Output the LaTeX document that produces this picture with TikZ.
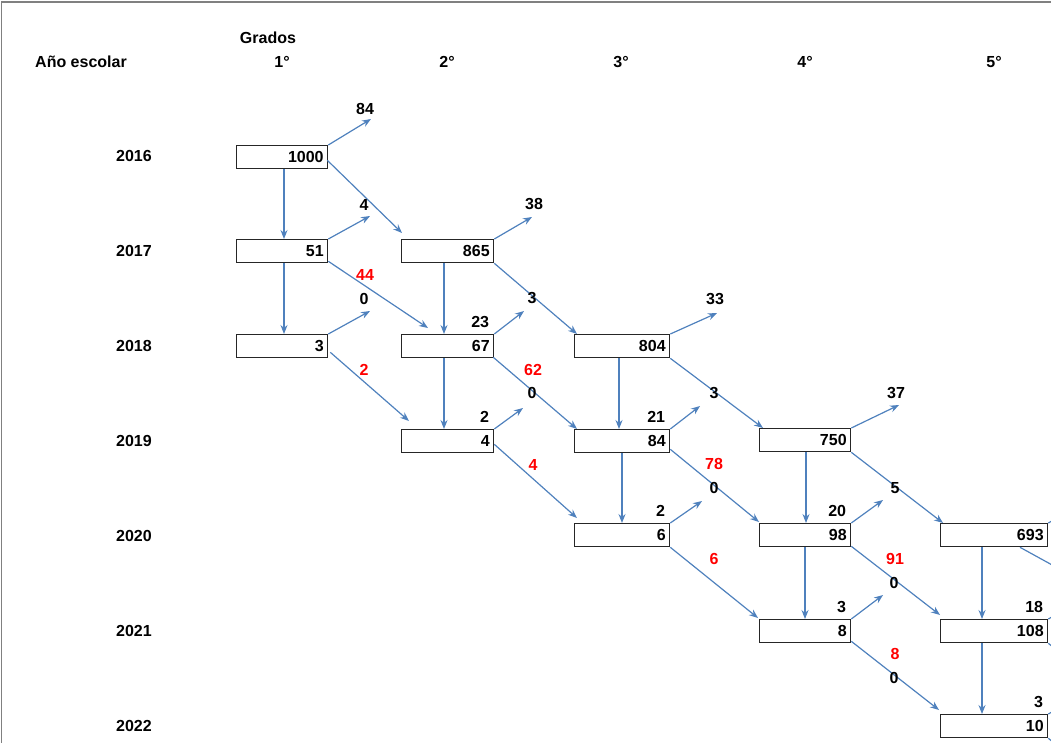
\documentclass[tikz,border=0pt]{standalone}
\usepackage{fontspec}
\setmainfont{Liberation Sans}
\usetikzlibrary{arrows.meta,calc}
\definecolor{flow}{HTML}{4F81BD}
\definecolor{promo}{HTML}{FF0000}
\definecolor{framegray}{HTML}{808080}

\begin{document}
\begin{tikzpicture}[x=1pt,y=-1pt,
  every node/.style={font=\fontsize{16}{19}\selectfont\bfseries, inner sep=0pt},
  cell/.style={draw=black!85, line width=1.3pt, minimum height=23pt,
    text width=#1pt, align=right, inner xsep=4pt, inner ysep=0pt, anchor=north west},
  arr/.style={draw=flow, line width=1.2pt, -{Stealth[length=9pt,width=7pt,inset=3pt]}},
  seg/.style={draw=flow, line width=1.2pt},
  num/.style={text=black},
  red/.style={text=promo},
  rep/.style={anchor=east}]

\useasboundingbox (0,0) rectangle (1051,742);
\clip (0,0) rectangle (1051,742);

% page frame
\draw[framegray, line width=1.5pt] (1.5,760) -- (1.5,2) -- (1060,2);

% headings
\node (hgrados) at (268,38) {Grados};
\node (hyear) at (81,62) {Año escolar};
\node (g1) at (282,62) {1°};
\node (g2) at (447,62) {2°};
\node (g3) at (621,62) {3°};
\node (g4) at (805,62) {4°};
\node (g5) at (994,62) {5°};

% school years
\node (y16) at (134,156) {2016};
\node (y17) at (134,251) {2017};
\node (y18) at (134,346) {2018};
\node (y19) at (134,441) {2019};
\node (y20) at (134,536) {2020};
\node (y21) at (134,631) {2021};
\node (y22) at (134,726) {2022};

% enrolment cells
\node[cell=83] (b1000) at (236,145) {1000};
\node[cell=83] (b51)   at (236,239) {51};
\node[cell=83] (b3)    at (236,334) {3};
\node[cell=84] (b865)  at (401,239) {865};
\node[cell=84] (b67)   at (401,334) {67};
\node[cell=84] (b4)    at (401,429) {4};
\node[cell=87] (b804)  at (574,334) {804};
\node[cell=87] (b84)   at (574,429) {84};
\node[cell=87] (b6)    at (574,523) {6};
\node[cell=83] (b750)  at (759,428) {750};
\node[cell=83] (b98)   at (759,523) {98};
\node[cell=83] (b8)    at (759,619) {8};
\node[cell=99] (b693)  at (940,523) {693};
\node[cell=99] (b108)  at (940,619) {108};
\node[cell=99] (b10)   at (940,714) {10};

% repeaters (vertical arrows)
\draw[arr] ($(b1000.south west)+(48,0)$) -- ($(b51.north west)+(48,0)$);
\draw[arr] ($(b51.south west)+(48,0)$) -- ($(b3.north west)+(48,0)$);
\draw[arr] ($(b865.south west)+(43,0)$) -- ($(b67.north west)+(43,0)$);
\draw[arr] ($(b67.south west)+(43,0)$) -- ($(b4.north west)+(43,0)$);
\draw[arr] ($(b804.south west)+(45,0)$) -- ($(b84.north west)+(45,0)$);
\draw[arr] ($(b84.south west)+(48,0)$) -- ($(b6.north west)+(48,0)$);
\draw[arr] ($(b750.south west)+(47,0)$) -- ($(b98.north west)+(47,0)$);
\draw[arr] ($(b98.south west)+(46,0)$) -- ($(b8.north west)+(46,0)$);
\draw[arr] ($(b693.south west)+(42,0)$) -- ($(b108.north west)+(42,0)$);
\draw[arr] ($(b108.south west)+(42,0)$) -- ($(b10.north west)+(42,0)$);

% promoted (diagonal arrows)
\draw[arr] ($(b1000.south east)+(-1,-9)$) -- ($(b865.north west)+(1,-6)$);
\draw[arr] ($(b51.south east)+(0,-2)$) -- ($(b67.north west)+(27,-6)$);
\draw[arr] ($(b3.south east)+(2,-6)$) -- ($(b4.north west)+(8,-8)$);
\draw[arr] (b865.south east) -- ($(b804.north west)+(3,0)$);
\draw[arr] ($(b67.south east)+(-1,-1)$) -- ($(b84.north west)+(3,0)$);
\draw[arr] ($(b4.south east)+(0,-9)$) -- ($(b6.north west)+(3,-5)$);
\draw[arr] (b804.south east) -- ($(b750.north west)+(4,0)$);
\draw[arr] ($(b84.south east)+(0,-4)$) -- ($(b98.north west)+(0,-1)$);
\draw[arr] (b6.south east) -- ($(b8.north west)+(-1,-1)$);
\draw[arr] (b750.south east) -- ($(b693.north west)+(3,0)$);
\draw[arr] ($(b98.south east)+(0,-1)$) -- ($(b108.north west)+(0,-4)$);
\draw[arr] ($(b8.south east)+(0,-2)$) -- ($(b10.north west)+(-1,-4)$);
\draw[seg] ($(b693.south west)+(80,0)$) -- ++(60,33);
\draw[seg] (b108.south east) -- ++(40,32);
\draw[seg] (b10.south east) -- ++(30,24);

% dropouts (up-right arrows)
\coordinate (t1000) at (371,119);
\coordinate (t51)   at (370,216);
\coordinate (t3)    at (370,311);
\coordinate (t865)  at (532,217);
\coordinate (t67)   at (524,311);
\coordinate (t4)    at (523,408);
\coordinate (t804)  at (717,313);
\coordinate (t84)   at (700,406);
\coordinate (t6)    at (702,501);
\coordinate (t750)  at (899,405);
\coordinate (t98)   at (883,500);
\coordinate (t8)    at (883,595);
\draw[arr] (b1000.north east) -- (t1000);
\draw[arr] (b51.north east) -- (t51);
\draw[arr] (b3.north east) -- (t3);
\draw[arr] (b865.north east) -- (t865);
\draw[arr] (b67.north east) -- (t67);
\draw[arr] (b4.north east) -- (t4);
\draw[arr] (b804.north east) -- (t804);
\draw[arr] (b84.north east) -- (t84);
\draw[arr] (b6.north east) -- (t6);
\draw[arr] (b750.north east) -- (t750);
\draw[arr] (b98.north east) -- (t98);
\draw[arr] (b8.north east) -- (t8);
\draw[seg] (b693.north east) -- ++(30,-17);
\draw[seg] (b108.north east) -- ++(30,-17);
\draw[seg] (b10.north east) -- ++(30,-17);

% dropout counts
\node[num] (d1) at (365,109) {84};
\node[num] (d2) at (364,205) {4};
\node[num] (d3) at (364,299) {0};
\node[num] (d4) at (534,204) {38};
\node[num] (d5) at (532,298) {3};
\node[num] (d6) at (532,393) {0};
\node[num] (d7) at (715,299) {33};
\node[num] (d8) at (714,393) {3};
\node[num] (d9) at (714,488) {0};
\node[num] (d10) at (896,393) {37};
\node[num] (d11) at (895,488) {5};
\node[num] (d12) at (894,583) {0};
\node[num] (d13) at (894,678) {0};

% repeater counts above the cells
\node[num,rep] (r1) at ($(b67.north east)+(-5,-12)$) {23};
\node[num,rep] (r2) at ($(b4.north east)+(-5,-12)$) {2};
\node[num,rep] (r3) at ($(b84.north east)+(-5,-12)$) {21};
\node[num,rep] (r4) at ($(b6.north east)+(-5,-12)$) {2};
\node[num,rep] (r5) at ($(b98.north east)+(-5,-12)$) {20};
\node[num,rep] (r6) at ($(b8.north east)+(-5,-12)$) {3};
\node[num,rep] (r7) at ($(b108.north east)+(-5,-12)$) {18};
\node[num,rep] (r8) at ($(b10.north east)+(-5,-12)$) {3};

% promoted counts
\node[red] (p1) at (365,275) {44};
\node[red] (p2) at (364,370) {2};
\node[red] (p3) at (533,370) {62};
\node[red] (p4) at (533,465) {4};
\node[red] (p5) at (714,464) {78};
\node[red] (p6) at (714,559) {6};
\node[red] (p7) at (895,559) {91};
\node[red] (p8) at (895,654) {8};

\end{tikzpicture}
\end{document}
